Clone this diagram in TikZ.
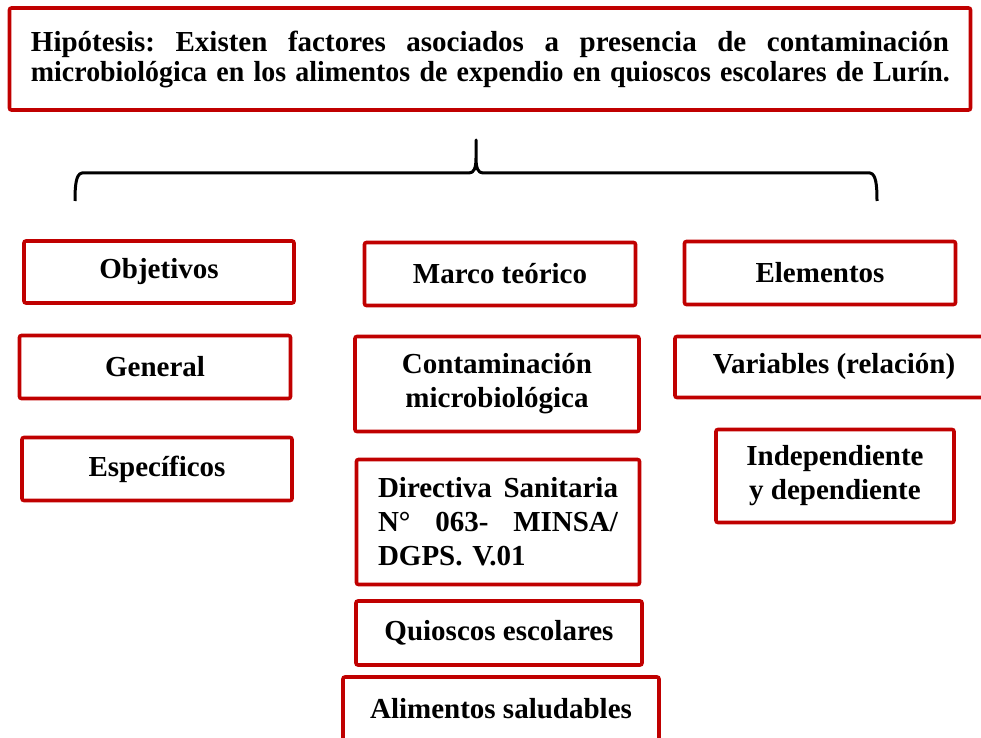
\documentclass[tikz,border=0pt]{standalone}
\usepackage{fontspec}
\setmainfont{Liberation Serif}
\definecolor{rojo}{RGB}{192,0,0}
\tikzset{
    caja/.style={rectangle,draw=rojo,line width=1.8pt,rounded corners=1pt,text centered,inner sep=2pt,font=\bfseries\fontsize{14.5}{17}\selectfont},
    hipo/.style={caja,font=\bfseries\fontsize{14.5}{15}\selectfont},
    llave/.style={draw=black,line width=1.5pt,line join=round},
}

\begin{document}
\begin{tikzpicture}[x=0.5pt,y=-0.5pt]
\useasboundingbox (0,0) rectangle (981,738);
\node[hipo,minimum width=480.5pt,minimum height=51pt,text width=459pt,align=left] (hip) at (490,59)
  {\makebox[459pt][l]{Hipótesis:\hfill Existen\hfill factores\hfill asociados\hfill a\hfill presencia\hfill de\hfill contaminación}\\
   \makebox[459pt][l]{\scalebox{0.962}[1]{microbiológica en los alimentos de expendio en quioscos escolares de Lurín.}}};
% llave
\draw[llave] (75,201) .. controls (75,185) and (76,174) .. (82,173) -- (469,173)
  .. controls (474,173) and (476,168) .. (476,158) -- (476,140) -- (476,158)
  .. controls (476,168) and (478,173) .. (483,173) -- (870,173)
  .. controls (876,174) and (877,185) .. (877,201);
% objetivos
\node[caja,minimum width=135pt,minimum height=31pt] (obj) at (159,272) {Objetivos};
\node[caja,minimum width=135.5pt,minimum height=31.5pt] (gen) at (155,367) {General};
\node[caja,minimum width=135pt,minimum height=31.5pt] (esp) at (157,469) {Específicos};
% marco teorico
\node[caja,minimum width=135.5pt,minimum height=31.5pt] (marco) at (500,274) {Marco teórico};
\node[caja,minimum width=142pt,minimum height=47.5pt,align=center] (cont) at (497,384) {Contaminación\\microbiológica};
\node[caja,minimum width=141.5pt,minimum height=62.5pt,text width=120pt,align=left] (dir) at (498,522)
  {\makebox[120pt][l]{Directiva\hfill Sanitaria}\\\makebox[120pt][l]{N°\hfill 063-\hfill MINSA/}\\DGPS. V.01};
\node[caja,minimum width=143pt,minimum height=32pt] (quio) at (499,633) {Quioscos escolares};
\node[caja,minimum width=158pt,minimum height=32pt] (alim) at (501,709) {Alimentos saludables};
% elementos
\node[caja,minimum width=135.5pt,minimum height=31.5pt] (elem) at (820,273) {Elementos};
\node[caja,minimum width=159pt,minimum height=30.5pt] (var) at (834,367) {Variables (relación)};
\node[caja,minimum width=119pt,minimum height=46.5pt,align=center] (ind) at (835,476) {Independiente\\y dependiente};
\end{tikzpicture}
\end{document}
